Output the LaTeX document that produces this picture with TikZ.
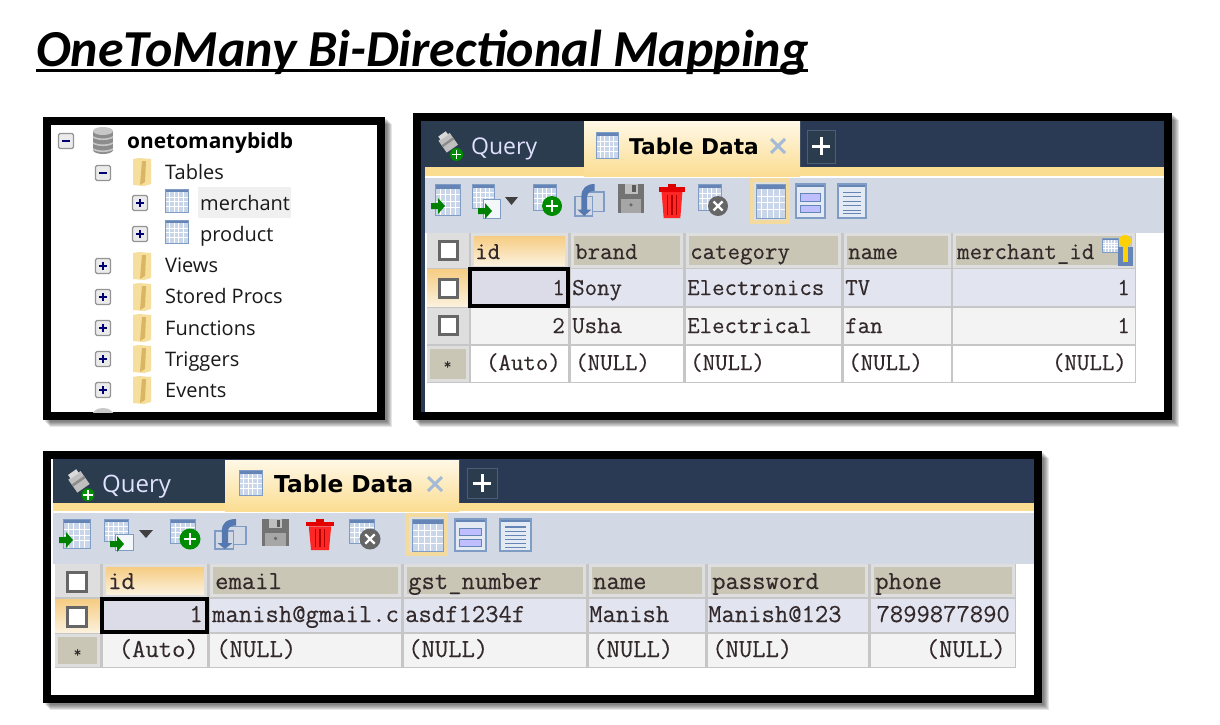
\documentclass[tikz,border=0pt]{standalone}
\usepackage{fontspec}
\setmainfont{Liberation Sans}
\setmonofont{Latin Modern Mono}[FakeBold=0.35]
\newfontfamily\titlefont{Carlito}
\newfontfamily\treefont{Open Sans}
\newfontfamily\tabfont{DejaVu Sans}
\definecolor{navy}{HTML}{2A3A55}
\definecolor{qtab}{HTML}{2B3C4E}
\definecolor{ystrip}{HTML}{FBDD92}
\definecolor{tbar}{HTML}{D2D9E4}
\definecolor{hdr}{HTML}{C9C6B6}
\definecolor{hline}{HTML}{C6C6C6}
\definecolor{rowa}{HTML}{E2E5F0}
\definecolor{rowb}{HTML}{F3F3F3}
\definecolor{sel}{HTML}{DCDCE8}
\definecolor{ink}{HTML}{33292B}
\definecolor{iconb}{HTML}{7F9CC4}
\definecolor{iconf}{HTML}{C9D5E8}
\definecolor{iconh}{HTML}{6485B5}
\definecolor{orgt}{HTML}{F6CC82}
\definecolor{orgb}{HTML}{FBF1DC}
\definecolor{foldA}{HTML}{F6DE9C}
\definecolor{foldB}{HTML}{D9B564}
\definecolor{selA}{HTML}{F3DB9F}
\definecolor{selB}{HTML}{DFE0DC}
\definecolor{tabtop}{HTML}{FFF8E6}
\definecolor{refr}{HTML}{5678B0}
\tikzset{
  txt/.style={inner sep=0pt,anchor=base west,text=ink},
  txtr/.style={inner sep=0pt,anchor=base east,text=ink},
  ttA/.style={font=\ttfamily\fontsize{24.2}{24}\selectfont},
  ttB/.style={font=\ttfamily\fontsize{25.9}{26}\selectfont},
  tree/.style={inner sep=0pt,anchor=base west,text=black!90,font=\treefont\fontsize{20}{22}\selectfont},
}
\newcommand\panelframe[4]{%
  \foreach \s in {1,...,6}{\fill[black,opacity=.1] (#1+\s+1,#2+\s+1) rectangle (#3+\s+1,#4+\s+1);}
  \fill[black] (#1,#2) rectangle (#3,#4);
  \fill[white] (#1+8,#2+8) rectangle (#3-8,#4-8);}
\newcommand\gridico[4]{\begin{scope}[shift={(#1,#2)},x=#3pt,y=#4pt]
  \fill[iconf] (0,0) rectangle (1,-1);
  \foreach \u in {.2,.4,.6,.8}{\draw[white,line width=.8pt] (\u,-.15) -- (\u,-1);}
  \foreach \u in {.35,.55,.75}{\draw[white,line width=.8pt] (0,-\u) -- (1,-\u);}
  \fill[iconh] (0,0) rectangle (1,-.15);
  \draw[iconb,line width=1pt] (0,0) rectangle (1,-1);
\end{scope}}
\newcommand\greenarrow[2]{\fill[green!50!black] (#1,#2-3) -- (#1+7,#2-3) -- (#1+7,#2-8) -- (#1+14,#2) -- (#1+7,#2+8) -- (#1+7,#2+3) -- (#1,#2+3) -- cycle;}
\newcommand\gplus[3]{\fill[green!55!black] (#1,#2) circle[radius=#3];
  \draw[white,line width=2.4pt] (#1-#3*.6,#2) -- (#1+#3*.6,#2) (#1,#2-#3*.6) -- (#1,#2+#3*.6);}
\newcommand\greyx[3]{\fill[black!60] (#1,#2) circle[radius=#3];
  \draw[white,line width=2.2pt] (#1-#3*.45,#2-#3*.45) -- (#1+#3*.45,#2+#3*.45) (#1-#3*.45,#2+#3*.45) -- (#1+#3*.45,#2-#3*.45);}
\newcommand\refreshico[4]{\begin{scope}[shift={(#1,#2)},x=#3pt,y=#4pt]
  \draw[iconb,line width=1.2pt] (.35,-.25) rectangle (1,-.85);
  \fill[tbar] (0,-.4) rectangle (.6,-1);
  \draw[iconb,line width=1.2pt] (0,-.4) rectangle (.6,-1);
  \fill[refr] (.22,-.8) -- (.22,-.4) .. controls (.22,-.12) and (.4,0) .. (.68,0) -- (.68,-.22) .. controls (.5,-.2) and (.42,-.3) .. (.42,-.4) -- (.42,-.8) -- (.56,-.8) -- (.32,-1) -- (.08,-.8) -- cycle;
\end{scope}}
\newcommand\floppy[4]{\begin{scope}[shift={(#1,#2)},x=#3pt,y=#4pt]
  \fill[black!55] (0,0) rectangle (1,-1);
  \fill[black!25] (.25,0) rectangle (.75,-.35);
  \fill[black!65] (.55,-.05) rectangle (.68,-.28);
  \fill[black!35] (.12,-.5) rectangle (.88,-1);
  \fill[black!60] (.5,-.72) circle[radius=1.8pt];
\end{scope}}
\newcommand\trash[4]{\begin{scope}[shift={(#1,#2)},x=#3pt,y=#4pt]
  \fill[red!85!black] (.35,0) rectangle (.65,-.1);
  \fill[red!90!black] (0,-.1) rectangle (1,-.24);
  \fill[red!85!white] (.1,-.24) -- (.9,-.24) -- (.82,-1) -- (.18,-1) -- cycle;
  \foreach \u in {.33,.5,.67}{\draw[red!70!black,line width=1.2pt] (\u,-.33) -- (\u,-.9);}
\end{scope}}
\newcommand\formico[4]{\begin{scope}[shift={(#1,#2)},x=#3pt,y=#4pt]
  \fill[iconf!50!white] (0,0) rectangle (1,-1);
  \fill[iconh] (0,0) rectangle (1,-.1);
  \fill[blue!25!white,draw=iconh] (.15,-.28) rectangle (.85,-.5);
  \fill[blue!25!white,draw=iconh] (.15,-.62) rectangle (.85,-.84);
  \draw[iconb,line width=1.2pt] (0,0) rectangle (1,-1);
\end{scope}}
\newcommand\textico[4]{\begin{scope}[shift={(#1,#2)},x=#3pt,y=#4pt]
  \fill[iconf!50!white] (0,0) rectangle (1,-1);
  \fill[iconh] (0,0) rectangle (1,-.1);
  \foreach \u in {.25,.38,.51,.64,.77,.88}{\draw[iconh,line width=1.1pt] (.17,-\u) -- (.83,-\u);}
  \draw[iconb,line width=1.2pt] (0,0) rectangle (1,-1);
\end{scope}}
\newcommand\queryico[4]{\begin{scope}[shift={(#1,#2)},x=#3pt,y=#4pt]
  \fill[black!25,rotate around={35:(.35,-.35)}] (.05,-.12) rectangle (.65,-.6);
  \fill[black!45,rotate around={35:(.35,-.35)}] (.05,-.3) rectangle (.65,-.38);
  \fill[white!85!black,rotate around={35:(.35,-.35)}] (.15,0) rectangle (.55,-.14);
  \fill[green!55!black] (.72,-.75) circle[radius=6.5pt];
  \draw[white,line width=1.8pt] (.52,-.75) -- (.92,-.75) (.72,-.6) -- (.72,-.9);
\end{scope}}
\newcommand\chk[3]{\fill[white,draw=black!60,line width=3pt] (#1,#2) rectangle (#1+#3,#2+#3);}
\newcommand\folder[2]{\begin{scope}[shift={(#1,#2)}]
  \fill[foldA] (-9,-13) -- (-3,-14) -- (9,-13) -- (9,12) -- (2,14) -- (-9,13) -- cycle;
  \fill[foldB] (0,-11) -- (4,-11) -- (3,10) -- (-2,13) -- cycle;
\end{scope}}
\newcommand\tbox[3]{\fill[black!8,draw=black!42,rounded corners=1.5pt,line width=1.2pt] (#1-7.5,#2-7.5) rectangle (#1+7.5,#2+7.5);
  \draw[blue!45!black,line width=1.3pt] (#1-4,#2) -- (#1+4,#2);
  \ifnum#3=1 \draw[blue!45!black,line width=1.3pt] (#1,#2-4) -- (#1,#2+4);\fi}
\begin{document}
\begin{tikzpicture}[x=1pt,y=-1pt,line cap=butt]
\useasboundingbox (0,0) rectangle (1220,724);
\fill[white] (0,0) rectangle (1220,724);
% ---------- title
\node[inner sep=0pt,anchor=base west,font=\titlefont\bfseries\itshape\fontsize{51.9}{52}\selectfont] (title) at (36,66) {OneToMany Bi-Directional Mapping};
\coordinate (ulA) at (36,70); \coordinate (ulB) at (808,70);
\draw[line width=3pt] (ulA) -- (ulB);
% ---------- tree panel
\panelframe{43}{117}{385}{420}
\begin{scope}
\clip (51,125) rectangle (377,412);
\fill[black!6] (198,187) rectangle (291,218);
\fill[black!45] (93,131) rectangle (113,150);
\fill[black!45] (103,150) ellipse[x radius=10,y radius=4];
\foreach \v in {137,143,149}{\draw[black!22,line width=1.6pt] (93,\v) .. controls (98,\v+3) and (108,\v+3) .. (113,\v);}
\fill[black!22] (103,131) ellipse[x radius=10,y radius=4];
\fill[black!22] (103,416) ellipse[x radius=11,y radius=8];
\tbox{66}{141}{0}
\tbox{103}{173}{0}
\tbox{140}{203}{1}
\tbox{140}{234}{1}
\foreach \v in {266,297,328,359,390}{\tbox{103}{\v}{1}}
\foreach \v in {172,266,297,328,359,390}{\folder{142}{\v}}
\gridico{165}{189}{23}{23}
\gridico{165}{220}{23}{23}
\node[tree,font=\treefont\bfseries\fontsize{20.9}{22}\selectfont,text=black] (db) at (127,148) {onetomanybidb};
\node[tree] (tTables) at (165,179) {Tables};
\node[tree] (tMerch) at (200,210) {merchant};
\node[tree] (tProd) at (200,241) {product};
\node[tree] (tViews) at (165,272) {Views};
\node[tree] (tProcs) at (165,303) {Stored Procs};
\node[tree] (tFunc) at (165,335) {Functions};
\node[tree] (tTrig) at (165,366) {Triggers};
\node[tree] (tEvents) at (165,397) {Events};
\end{scope}
% ---------- product panel
\panelframe{413}{113}{1172}{420}
\fill[navy] (421,121) rectangle (425,412);
\fill[navy] (425,121) rectangle (1164,167);
\fill[ystrip] (425,167) rectangle (1164,176);
\fill[tbar] (425,178) rectangle (1164,233);
\fill[qtab] (426,122) rectangle (583,166);
\queryico{440}{132}{23}{30}
\node[txt,text=blue!12!white,font=\treefont\fontsize{23}{23}\selectfont] (q1) at (471,154) {Query};
\shade[top color=tabtop,bottom color=ystrip] (584,121) rectangle (800,176);
\gridico{596}{132}{22}{26}
\node[txt,text=black,font=\tabfont\bfseries\fontsize{21.7}{23}\selectfont] (td1) at (629,154) {Table Data};
\draw[iconb!70!white,line width=3pt] (771,139) -- (785,153) (771,153) -- (785,139);
\fill[qtab,draw=iconb!60!black,line width=1pt] (807,130) rectangle (835,163);
\draw[white,line width=3pt] (812,146) -- (830,146) (821,137) -- (821,155);
% toolbar
\gridico{435}{184}{25}{31}\greenarrow{431}{206}
\gridico{472}{184}{22}{24}\draw[iconb,fill=white!80!iconf,line width=1pt] (483,199) rectangle (500,218);\greenarrow{478}{211}
\fill[black!75] (505,197) -- (518,197) -- (511.5,205) -- cycle;
\gridico{533}{184}{23}{26}\gplus{552}{206}{10}
\refreshico{575}{184}{29}{32}
\floppy{618}{184}{26}{29}
\trash{659}{184}{26}{34}
\gridico{698}{184}{23}{26}\greyx{718}{206}{10}
\fill[selA] (750,178) rectangle (790,224);
\fill[selB] (754,182) rectangle (786,220);
\gridico{756}{184}{29}{34}
\formico{796}{184}{29}{34}
\textico{838}{184}{28}{34}
% table
\fill[hline] (427,233) rectangle (1136,383);
\foreach \a/\b in {427/469,471/568,571/683,686/841,844/951,953/1135}{
  \fill[black!13] (\a,233) rectangle (\b,268);
  \fill[hdr] (\a+3,236) rectangle (\b-3,265);
  \fill[rowa] (\a,269) rectangle (\b,306);
  \fill[rowb] (\a,308) rectangle (\b,344);
  \fill[white] (\a,346) rectangle (\b,382);}
\shade[top color=orgt,bottom color=orgb] (474,236) rectangle (565,265);
\shade[top color=orgt,bottom color=orgb] (427,269) rectangle (469,306);
\fill[black!13] (427,308) rectangle (469,344);
\fill[black!13] (427,346) rectangle (469,382);\fill[hdr] (430,349) rectangle (466,379);
\fill[black!13] (427,233) rectangle (469,268);
\chk{439}{241}{18}\chk{439}{279}{18}\chk{439}{316}{18}
\fill[sel] (471,269) rectangle (568,306);
\draw[black,line width=3.4pt] (470,269) rectangle (568,306);
\node[txt,font=\fontsize{15}{15}\selectfont\ttfamily] (st1) at (443.5,369) {*};
\gridico{1102}{238}{16}{14}
\fill[iconh] (1118,247) rectangle (1133,266);
\fill[yellow!70!orange] (1125,241) circle[radius=6];
\fill[yellow!70!orange] (1123,241) rectangle (1128,262);
\node[txt,ttA] (h1) at (475,259) {id};
\node[txt,ttA] (h2) at (575,259) {brand};
\node[txt,ttA] (h3) at (690,259) {category};
\node[txt,ttA] (h4) at (848,259) {name};
\node[txt,ttA] (h5) at (957,259) {merchant\_id};
\node[txtr,ttA] (c11) at (565,295) {1};
\node[txt,ttA] (c12) at (572,295) {Sony};
\node[txt,ttA] (c13) at (687,295) {Electronics};
\node[txt,ttA] (c14) at (845,295) {TV};
\node[txtr,ttA] (c15) at (1130,295) {1};
\node[txtr,ttA] (c21) at (565,333) {2};
\node[txt,ttA] (c22) at (572,333) {Usha};
\node[txt,ttA] (c23) at (687,333) {Electrical};
\node[txt,ttA] (c24) at (845,333) {fan};
\node[txtr,ttA] (c25) at (1130,333) {1};
\node[txtr,ttA] (c31) at (561,370) {(Auto)};
\node[txt,ttA] (c32) at (575,370) {(NULL)};
\node[txt,ttA] (c33) at (690,370) {(NULL)};
\node[txt,ttA] (c34) at (848,370) {(NULL)};
\node[txtr,ttA] (c35) at (1127,370) {(NULL)};
% ---------- merchant panel
\panelframe{43}{451}{1042}{703}
\fill[navy] (53,459) rectangle (1034,503);
\fill[ystrip] (53,503) rectangle (1034,511);
\fill[tbar] (53,513) rectangle (1034,564);
\fill[qtab] (54,461) rectangle (224,503);
\queryico{70}{470}{25}{33}
\node[txt,text=blue!12!white,font=\treefont\fontsize{24}{24}\selectfont] (q2) at (102,492) {Query};
\shade[top color=tabtop,bottom color=ystrip] (225,460) rectangle (459,511);
\gridico{239}{470}{23}{25}
\node[txt,text=black,font=\tabfont\bfseries\fontsize{23.3}{24}\selectfont] (td2) at (274,492) {Table Data};
\draw[iconb!70!white,line width=3pt] (428,477) -- (442,491) (428,491) -- (442,477);
\fill[qtab,draw=iconb!60!black,line width=1pt] (467,468) rectangle (497,498);
\draw[white,line width=3pt] (473,483) -- (491,483) (482,474) -- (482,492);
% toolbar
\gridico{63}{519}{27}{29}\greenarrow{59}{540}
\gridico{104}{519}{24}{22}\draw[iconb,fill=white!80!iconf,line width=1pt] (115,534) rectangle (133,550);\greenarrow{110}{544}
\fill[black!75] (139,530) -- (153,530) -- (146,538) -- cycle;
\gridico{170}{519}{25}{24}\gplus{190}{539}{10.5}
\refreshico{215}{519}{31}{30}
\floppy{262}{519}{27}{27}
\trash{306}{519}{28}{31}
\gridico{349}{519}{25}{24}\greyx{370}{539}{10.5}
\fill[selA] (405,513) rectangle (448,556);
\fill[selB] (409,517) rectangle (444,552);
\gridico{412}{519}{31}{32}
\formico{455}{519}{31}{32}
\textico{500}{519}{31}{32}
% table
\fill[hline] (55,564) rectangle (1016,668);
\foreach \a/\b in {55/100,103/207,210/401,404/586,589/705,708/868,871/1015}{
  \fill[black!13] (\a,564) rectangle (\b,597);
  \fill[hdr] (\a+3,567) rectangle (\b-3,594);
  \fill[rowa] (\a,599) rectangle (\b,632);
  \fill[rowb] (\a,634) rectangle (\b,667);}
\shade[top color=orgt,bottom color=orgb] (106,567) rectangle (204,594);
\shade[top color=orgt,bottom color=orgb] (55,599) rectangle (100,632);
\fill[black!13] (55,564) rectangle (100,597);
\fill[black!13] (55,634) rectangle (100,667);\fill[hdr] (58,637) rectangle (97,664);
\chk{67}{572}{19}\chk{67}{607}{19}
\fill[sel] (103,599) rectangle (207,632);
\draw[black,line width=3.4pt] (102,599) rectangle (207,632);
\node[txt,font=\fontsize{15}{15}\selectfont\ttfamily] (st2) at (73.5,657) {*};
\node[txt,ttB] (k1) at (108,589) {id};
\node[txt,ttB] (k2) at (215,589) {email};
\node[txt,ttB] (k3) at (408,589) {gst\_number};
\node[txt,ttB] (k4) at (593,589) {name};
\node[txt,ttB] (k5) at (712,589) {password};
\node[txt,ttB] (k6) at (875,589) {phone};
\node[txtr,ttB] (m1) at (203,622) {1};
\begin{scope}
\clip (205,599) rectangle (398,632);
\node[txt,ttB] (m2) at (212,622) {manish@gmail.c};
\end{scope}
\node[txt,ttB] (m3) at (405,622) {asdf1234f};
\node[txt,ttB] (m4) at (589,622) {Manish};
\node[txt,ttB] (m5) at (708,622) {Manish@123};
\node[txtr,ttB] (m6) at (1010,622) {7899877890};
\node[txtr,ttB] (n1) at (199,657) {(Auto)};
\node[txt,ttB] (n2) at (216,657) {(NULL)};
\node[txt,ttB] (n3) at (408,657) {(NULL)};
\node[txt,ttB] (n4) at (593,657) {(NULL)};
\node[txt,ttB] (n5) at (712,657) {(NULL)};
\node[txtr,ttB] (n6) at (1006,657) {(NULL)};
\end{tikzpicture}
\end{document}
